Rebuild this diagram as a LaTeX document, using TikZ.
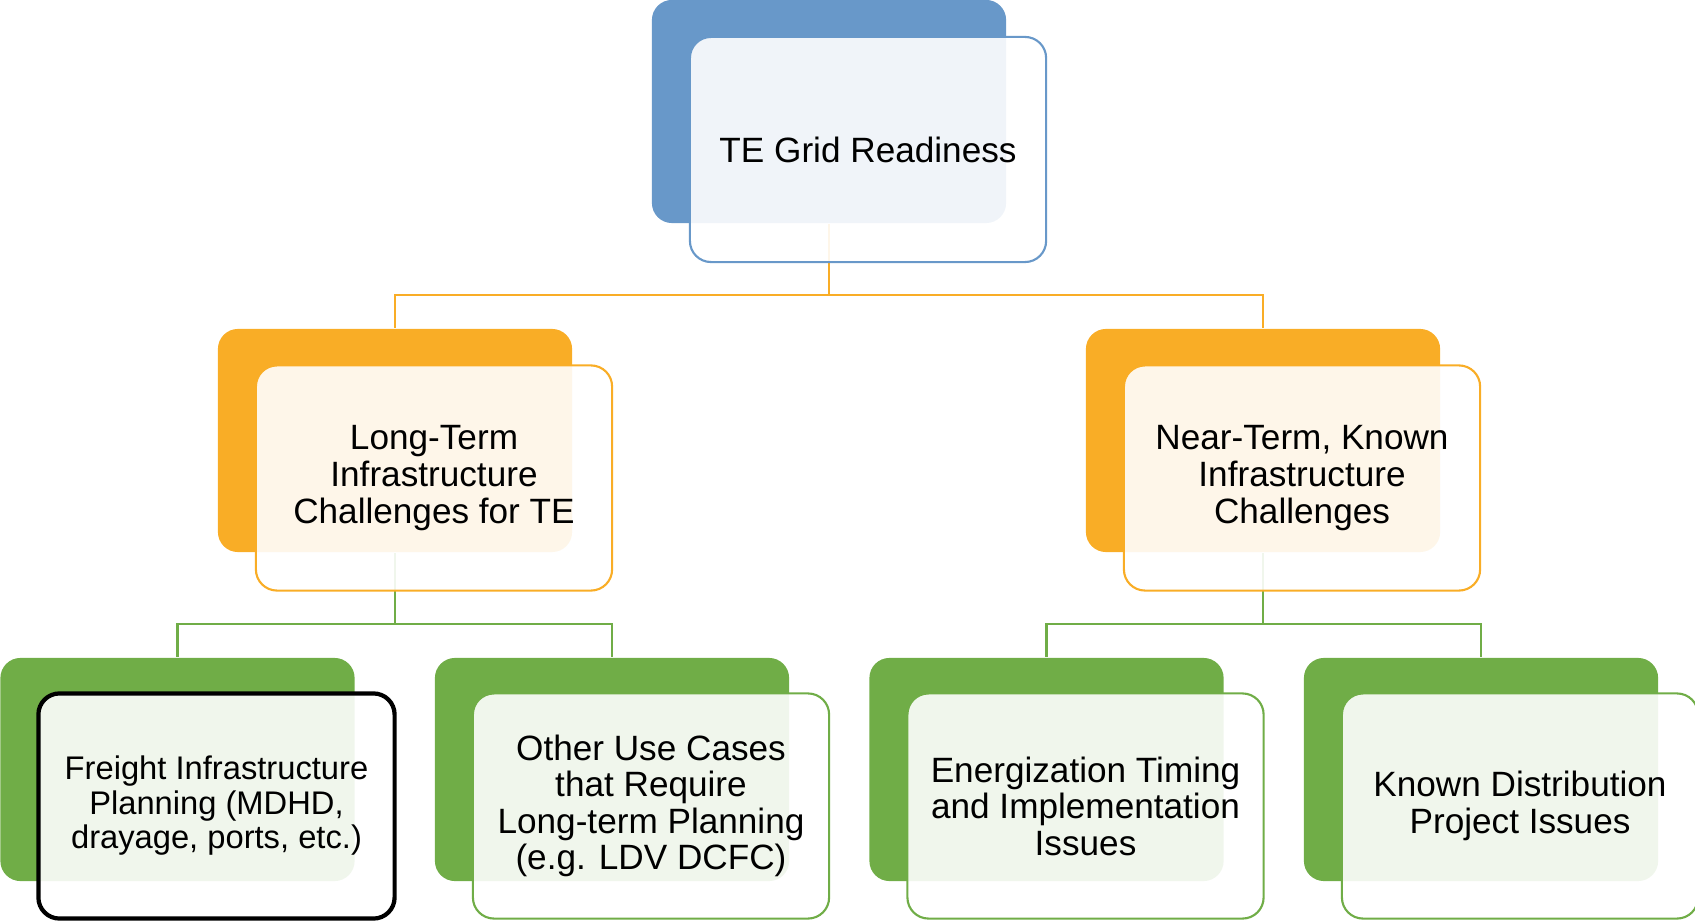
\documentclass[tikz,border=0pt]{standalone}
\usepackage{fontspec}
\setmainfont{Liberation Sans}
\definecolor{ablue}{HTML}{6898C9}
\definecolor{aorange}{HTML}{F9AD26}
\definecolor{agreen}{HTML}{70AD47}
\tikzstyle{backb}=[rounded corners=5.7pt,minimum width=3.54cm,minimum height=2.23cm,inner sep=0pt]
\tikzstyle{front}=[rounded corners=6pt,minimum width=3.56cm,minimum height=2.25cm,inner sep=0pt,fill=white,fill opacity=0.9,text opacity=1,align=center,line width=0.6pt,font=\fontsize{10}{10.4}\selectfont]

\begin{document}
\begin{tikzpicture}[x=0.01cm,y=-0.01cm]
    \useasboundingbox (0,0) rectangle (1695,922);
    % back boxes
    \node[backb,fill=ablue] (b0) at (829,111.5) {};
    \node[backb,fill=aorange] (b1) at (395,440.5) {};
    \node[backb,fill=aorange] (b2) at (1263,440.5) {};
    \node[backb,fill=agreen] (b3) at (177.5,769.5) {};
    \node[backb,fill=agreen] (b4) at (612,769.5) {};
    \node[backb,fill=agreen] (b5) at (1046.5,769.5) {};
    \node[backb,fill=agreen] (b6) at (1481,769.5) {};

    % connectors
    \coordinate (j0) at (829,295);
    \coordinate (j1) at (395,624);
    \coordinate (j2) at (1263,624);
    \draw[aorange,line width=0.6pt] (b0.south) -- (j0);
    \foreach \to in {b1,b2}
    \draw[aorange,line width=0.6pt] (j0) -| (\to.north);
    \draw[agreen,line width=0.6pt] (b1.south) -- (j1);
    \draw[agreen,line width=0.6pt] (b2.south) -- (j2);
    \foreach \from/\to in {j1/b3,j1/b4,j2/b5,j2/b6}
    \draw[agreen,line width=0.6pt] (\from) -| (\to.north);

    % front boxes
    \node[front,draw=ablue] (f0) at (868,149.5) {TE Grid Readiness};
    \node[front,draw=aorange] (f1) at (434,478) {Long-Term\\Infrastructure\\Challenges for TE};
    \node[front,draw=aorange] (f2) at (1302,478) {Near-Term, Known\\Infrastructure\\Challenges};
    \node[front,draw=black,line width=1.2pt,font=\fontsize{9.3}{9.8}\selectfont] (f3) at (216.5,806) {Freight Infrastructure\\Planning (MDHD,\\drayage, ports, etc.)};
    \node[front,draw=agreen] (f4) at (651,806) {Other Use Cases\\that Require\\Long-term Planning\\(e.g. LDV DCFC)};
    \node[front,draw=agreen] (f5) at (1085.5,806) {Energization Timing\\and Implementation\\Issues};
    \node[front,draw=agreen] (f6) at (1520,806) {Known Distribution\\Project Issues};
\end{tikzpicture}
\end{document}
